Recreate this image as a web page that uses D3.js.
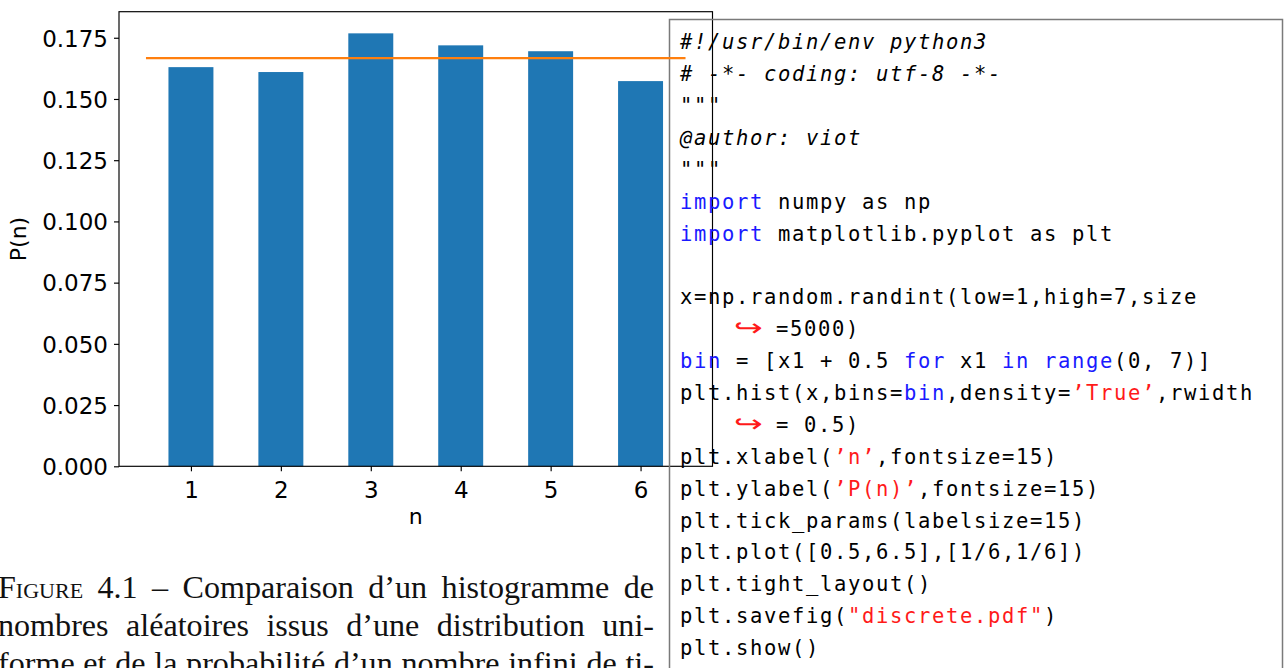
<!DOCTYPE html>
<html>
<head>
<meta charset="utf-8">
<script src="https://cdn.jsdelivr.net/npm/d3@7"></script>
<style>
  html, body { margin: 0; padding: 0; background: #ffffff; overflow: hidden; }
  svg { display: block; }
</style>
</head>
<body>
<svg id="chart" width="1285" height="668"></svg>
<script>
// ---------------- DATA ----------------
const categories = [1, 2, 3, 4, 5, 6];
const density = [0.1630, 0.1610, 0.1768, 0.1719, 0.1695, 0.1573];
const uniformX = [0.5, 6.5];
const uniformY = [1 / 6, 1 / 6];
const yTickValues = [0, 0.025, 0.05, 0.075, 0.1, 0.125, 0.15, 0.175];
const xTickValues = [1, 2, 3, 4, 5, 6];
const xLabel = "n";
const yLabel = "P(n)";

// code listing: each line = list of [text, kind]; kind: c comment, k keyword, s string, n normal, a continuation arrow
const codeLines = [
  [["#!/usr/bin/env python3", "c"]],
  [["# -*- coding: utf-8 -*-", "c"]],
  [["\"\"\"", "c"]],
  [["@author: viot", "c"]],
  [["\"\"\"", "c"]],
  [["import", "k"], [" numpy as np", "n"]],
  [["import", "k"], [" matplotlib.pyplot as plt", "n"]],
  [],
  [["x=np.random.randint(low=1,high=7,size", "n"]],
  [["\u21AA", "a"], ["=5000)", "n"]],
  [["bin", "k"], [" = [x1 + 0.5 ", "n"], ["for", "k"], [" x1 ", "n"], ["in", "k"], [" ", "n"], ["range", "k"], ["(0, 7)]", "n"]],
  [["plt.hist(x,bins=", "n"], ["bin", "k"], [",density=", "n"], ["\u2019True\u2019", "s"], [",rwidth", "n"]],
  [["\u21AA", "a"], ["= 0.5)", "n"]],
  [["plt.xlabel(", "n"], ["\u2019n\u2019", "s"], [",fontsize=15)", "n"]],
  [["plt.ylabel(", "n"], ["\u2019P(n)\u2019", "s"], [",fontsize=15)", "n"]],
  [["plt.tick_params(labelsize=15)", "n"]],
  [["plt.plot([0.5,6.5],[1/6,1/6])", "n"]],
  [["plt.tight_layout()", "n"]],
  [["plt.savefig(", "n"], ["\"discrete.pdf\"", "s"], [")", "n"]],
  [["plt.show()", "n"]]
];

// caption lines (words)
const captionLines = [
  [["Figure", "sc"], ["4.1"], ["\u2013"], ["Comparaison"], ["d\u2019un"], ["histogramme"], ["de"]],
  [["nombres"], ["al\u00e9atoires"], ["issus"], ["d\u2019une"], ["distribution"], ["uni-"]],
  [["forme"], ["et"], ["de"], ["la"], ["probabilit\u00e9"], ["d\u2019un"], ["nombre"], ["infini"], ["de"], ["ti-"]]
];

// ---------------- LAYOUT ----------------
const svg = d3.select("#chart");
const plot = { left: 119, right: 712.5, top: 11.7, bottom: 466.3 };
const tickFont = "'DejaVu Sans', sans-serif";
const tickSize = 23;
const labelSize = 22;

const x = d3.scaleLinear().domain([0.2, 6.8]).range([plot.left, plot.right]);
const yMax = d3.max(density) * 1.05;
const y = d3.scaleLinear().domain([0, yMax]).range([plot.bottom, plot.top]);

const gChart = svg.append("g");

// bars (rwidth 0.5 in bins of width 1)
gChart.selectAll("rect.bar")
  .data(categories.map((c, i) => ({ c, v: density[i] })))
  .enter().append("rect")
  .attr("class", "bar")
  .attr("x", d => x(d.c - 0.25))
  .attr("width", d => x(d.c + 0.25) - x(d.c - 0.25))
  .attr("y", d => y(d.v))
  .attr("height", d => y(0) - y(d.v))
  .attr("fill", "#1f77b4");

// axes
const yAxis = d3.axisLeft(y).tickValues(yTickValues).tickFormat(d3.format(".3f")).tickSize(5).tickPadding(6);
const gy = gChart.append("g").attr("transform", `translate(${plot.left},0)`).call(yAxis);
const xAxis = d3.axisBottom(x).tickValues(xTickValues).tickFormat(d3.format("d")).tickSize(5).tickPadding(5);
const gx = gChart.append("g").attr("transform", `translate(0,${plot.bottom})`).call(xAxis);

[gx, gy].forEach(g => {
  g.select(".domain").remove();
  g.selectAll(".tick line").attr("stroke", "#000").attr("stroke-width", 1.16);
  g.selectAll(".tick text")
    .attr("fill", "#000")
    .style("font-family", tickFont)
    .style("font-size", tickSize + "px");
});
gy.selectAll(".tick text").attr("dy", "0.36em");
gx.selectAll(".tick text").attr("y", 31.8).attr("dy", 0);

// spines
gChart.append("rect")
  .attr("x", plot.left).attr("y", plot.top)
  .attr("width", plot.right - plot.left).attr("height", plot.bottom - plot.top)
  .attr("fill", "none").attr("stroke", "#000").attr("stroke-width", 1.16);

// axis labels
gChart.append("text")
  .attr("x", (plot.left + plot.right) / 2).attr("y", 524)
  .attr("text-anchor", "middle")
  .style("font-family", tickFont).style("font-size", labelSize + "px")
  .text(xLabel);
gChart.append("text")
  .attr("transform", `translate(25.5,${(plot.top + plot.bottom) / 2}) rotate(-90)`)
  .attr("text-anchor", "middle")
  .style("font-family", tickFont).style("font-size", labelSize + "px")
  .text(yLabel);

// ---------------- CODE LISTING ----------------
const gCode = svg.append("g");
gCode.append("rect")
  .attr("x", 669.5).attr("y", 19.5).attr("width", 613).attr("height", 700)
  .attr("fill", "none").attr("stroke", "#7a7a7a").attr("stroke-width", 1.5);

const codeX = 680, codeY0 = 49.3, codeLH = 31.88;
const codeFontSize = 20.5;
const advance = 14;
const letterSp = advance - 0.60205 * codeFontSize;
const colors = { c: "#000", k: "#1a1aff", s: "#ff1a1a", n: "#000", a: "#ff1a1a" };

codeLines.forEach((segs, i) => {
  if (!segs.length) return;
  const by = codeY0 + i * codeLH;
  const t = gCode.append("text")
    .attr("x", codeX).attr("y", by)
    .style("font-family", "'DejaVu Sans Mono', monospace")
    .style("font-size", codeFontSize + "px")
    .style("letter-spacing", letterSp + "px")
    .attr("xml:space", "preserve")
    .style("white-space", "pre");
  segs.forEach(([txt, kind], j) => {
    if (kind === "a") {
      gCode.append("text")
        .attr("x", 734).attr("y", by)
        .attr("textLength", 29).attr("lengthAdjust", "spacingAndGlyphs")
        .style("font-family", "'DejaVu Sans', sans-serif")
        .style("font-size", "24px")
        .attr("fill", colors.a)
        .text(txt);
      return;
    }
    const ts = t.append("tspan").attr("fill", colors[kind]).text(txt);
    if (j > 0 && segs[j - 1][1] === "a") ts.attr("x", 776);
    if (kind === "c") ts.style("font-style", "italic");
  });
});

// ---------------- CAPTION ----------------
const gCap = svg.append("g");
const capLeft = -2, capRight = 654, capY0 = 598, capLH = 38;
const capFont = "'Liberation Serif', 'Times New Roman', serif";

function measureWord(w, size) {
  const t = gCap.append("text")
    .style("font-family", capFont).style("font-size", size + "px")
    .style("font-variant", w[1] === "sc" ? "small-caps" : "normal")
    .text(w[0]);
  const len = t.node().getComputedTextLength();
  t.remove();
  return len;
}
// size chosen so that the fullest line (the last one) sets with normal inter-word spaces
const spaceEm = 0.27;
let capSize = d3.min(captionLines, words => {
  const w1 = d3.sum(words, w => measureWord(w, 100)) / 100;
  return (capRight - capLeft) / (w1 + (words.length - 1) * spaceEm);
});

captionLines.forEach((words, i) => {
  const widths = words.map(w => measureWord(w, capSize));
  const gap = (capRight - capLeft - d3.sum(widths)) / (words.length - 1);
  let cx = capLeft;
  words.forEach((w, j) => {
    gCap.append("text")
      .attr("x", cx).attr("y", capY0 + i * capLH)
      .style("font-family", capFont).style("font-size", capSize + "px")
      .style("font-variant", w[1] === "sc" ? "small-caps" : "normal")
      .attr("fill", "#111")
      .text(w[0]);
    cx += widths[j] + gap;
  });
});

// ---------------- REFERENCE LINE (on top) ----------------
const line = d3.line().x(d => x(d[0])).y(d => y(d[1]));
svg.append("path")
  .datum(uniformX.map((v, i) => [v, uniformY[i]]))
  .attr("d", line)
  .attr("fill", "none")
  .attr("stroke", "#ff7f0e")
  .attr("stroke-width", 2.2);
</script>
</body>
</html>
